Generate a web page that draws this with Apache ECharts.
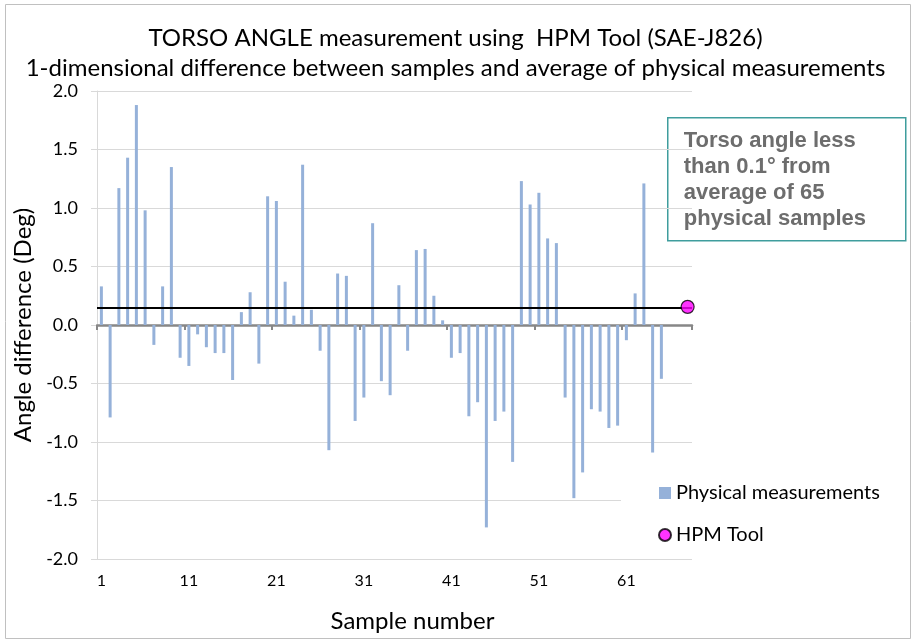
<!DOCTYPE html>
<html>
<head>
<meta charset="utf-8">
<script src="https://cdn.jsdelivr.net/npm/echarts@6/dist/echarts.min.js"></script>
<style>
  html, body { margin: 0; padding: 0; background: #fff; }
  #chart-content { width: 911px; height: 639px; }
</style>
</head>
<body>
<div id="chart-content"></div>
<script>
// sample numbers on the x axis (65 physical samples + room for the HPM point)
const sampleNumbers = ['1','2','3','4','5','6','7','8','9','10','11','12','13','14','15','16','17','18','19','20',
  '21','22','23','24','25','26','27','28','29','30','31','32','33','34','35','36','37','38','39','40',
  '41','42','43','44','45','46','47','48','49','50','51','52','53','54','55','56','57','58','59','60',
  '61','62','63','64','65','66','67','68'];

// difference to average of physical measurements (deg), samples 1..65
const physical = [
  0.33, -0.79, 1.17, 1.43, 1.88, 0.98, -0.17, 0.33, 1.35, -0.28,
  -0.35, -0.08, -0.19, -0.24, -0.24, -0.47, 0.11, 0.28, -0.33, 1.10,
  1.06, 0.37, 0.08, 1.37, 0.13, -0.22, -1.07, 0.44, 0.42, -0.82,
  -0.62, 0.87, -0.48, -0.60, 0.34, -0.22, 0.64, 0.65, 0.25, 0.04,
  -0.28, -0.24, -0.78, -0.66, -1.73, -0.82, -0.74, -1.17, 1.23, 1.03,
  1.13, 0.74, 0.70, -0.62, -1.48, -1.26, -0.72, -0.74, -0.88, -0.86,
  -0.13, 0.27, 1.21, -1.09, -0.46
];

// HPM tool result
const hpmSample = ['68'];
const hpmValue = [0.155];

const yTicks = { min: -2, max: 2, step: 0.5 };

const chart = echarts.init(document.getElementById('chart-content'));
const font = 'Lato, "DejaVu Sans", sans-serif';

let option = {
  backgroundColor: '#fff',
  animation: false,
  textStyle: { fontFamily: font },
  title: {
    text: 'TORSO ANGLE measurement using  HPM Tool (SAE-J826)\n1-dimensional difference between samples and average of physical measurements',
    left: 'center',
    top: 18,
    textStyle: { fontFamily: font, fontSize: 24, fontWeight: 'normal', color: '#000', lineHeight: 30 }
  },
  grid: { left: 97, right: 219, top: 91, bottom: 80 },
  legend: {
    orient: 'vertical',
    left: 621,
    top: 464,
    padding: [19, 10, 8, 37],
    backgroundColor: '#fff',
    itemWidth: 12,
    itemHeight: 12,
    itemGap: 22,
    textStyle: { fontFamily: font, fontSize: 20, color: '#000' },
    data: [
      { name: 'Physical measurements', icon: 'rect' },
      { name: 'HPM Tool', icon: 'circle' }
    ]
  },
  xAxis: [
    {
      // axis line through zero with ticks every 10 samples
      type: 'category',
      data: sampleNumbers,
      position: 'bottom',
      axisLine: { onZero: true, lineStyle: { color: '#878787', width: 2.5 } },
      axisTick: { show: true, interval: 9, length: 5, lineStyle: { color: '#878787', width: 2 } },
      axisLabel: { show: false },
      splitLine: { show: false }
    },
    {
      // labels along the bottom of the plot
      type: 'category',
      data: sampleNumbers,
      position: 'bottom',
      axisLine: { show: false, onZero: false },
      axisTick: { show: false },
      axisLabel: { interval: 9, margin: 14, fontSize: 16, color: '#000', fontFamily: font },
      name: 'Sample number',
      nameLocation: 'middle',
      nameGap: 50,
      nameTextStyle: { fontSize: 24, color: '#000', fontFamily: font, padding: [0, 0, 0, 36] }
    }
  ],
  yAxis: {
    type: 'value',
    min: yTicks.min,
    max: yTicks.max,
    interval: yTicks.step,
    name: 'Angle difference (Deg)',
    nameLocation: 'middle',
    nameGap: 52,
    nameTextStyle: { fontSize: 24, color: '#000', fontFamily: font },
    axisLine: { show: true, lineStyle: { color: '#d9d9d9', width: 1 } },
    axisTick: { show: true, length: 6, lineStyle: { color: '#d9d9d9' } },
    axisLabel: {
      margin: 19,
      fontSize: 18,
      color: '#000',
      fontFamily: font,
      formatter: v => v.toFixed(1)
    },
    splitLine: { lineStyle: { color: '#d9d9d9', width: 1.2 } }
  },
  series: [
    {
      name: 'Physical measurements',
      type: 'bar',
      xAxisIndex: 0,
      barWidth: 3,
      data: physical,
      itemStyle: { color: '#95b1d9' },
      z: 2
    },
    {
      name: 'HPM Tool',
      type: 'scatter',
      xAxisIndex: 0,
      symbol: 'circle',
      symbolSize: 13,
      data: hpmSample.map((s, i) => [s, hpmValue[i]]),
      itemStyle: { color: '#ff00ff', borderColor: '#000', borderWidth: 1.2 },
      markLine: {
        silent: true,
        symbol: 'none',
        label: { show: false },
        lineStyle: { color: '#000', width: 2, type: 'solid' },
        data: [{ yAxis: hpmValue[0] }]
      },
      z: 5
    }
  ],
  graphic: [
    {
      type: 'rect',
      left: 3,
      top: 2,
      shape: { width: 905, height: 634 },
      style: { fill: 'none', stroke: '#c0c0c0', lineWidth: 1 },
      silent: true
    },
    {
      type: 'group',
      left: 667,
      top: 117,
      z: 10,
      children: [
        {
          type: 'rect',
          shape: { width: 238, height: 123 },
          style: { fill: '#fff', stroke: '#3f9d9d', lineWidth: 1.5 }
        },
        {
          type: 'text',
          left: 16,
          top: 10,
          style: {
            text: 'Torso angle less\nthan 0.1\u00b0 from\naverage of 65\nphysical samples',
            font: 'bold 22px "Liberation Sans", Arial, sans-serif',
            fill: '#6d6d6d',
            lineHeight: 26
          }
        }
      ]
    }
  ]
};
chart.setOption(option);
</script>
</body>
</html>
